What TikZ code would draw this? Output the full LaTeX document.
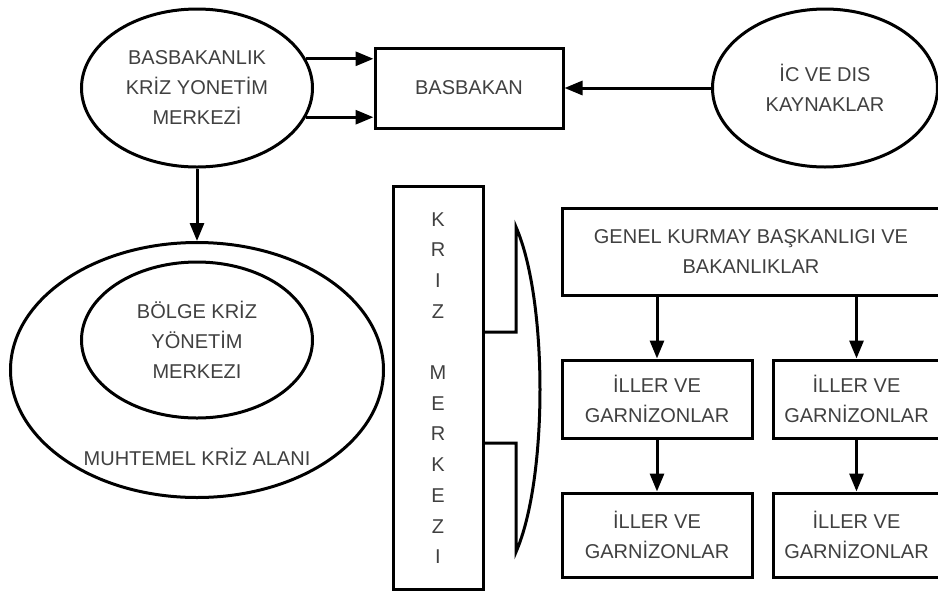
\documentclass[tikz,border=0pt]{standalone}
\usepackage{fontspec}
\setmainfont{Liberation Sans}
\usetikzlibrary{positioning,shapes.geometric,arrows.meta}

\begin{document}
\begin{tikzpicture}
		[x=1pt,y=-1pt,line width=3pt,
		ovalnode/.style={ellipse, draw, inner sep=0pt, align=center, text=black!75, font=\fontsize{20}{30}\selectfont},
		boxnode/.style={rectangle, draw, inner sep=0pt, align=center, text=black!75, font=\fontsize{20}{30}\selectfont},
		plaintext/.style={inner sep=0pt, text=black!75, font=\fontsize{20}{30}\selectfont},
		arrowline/.style={-{Triangle[length=18pt,width=14pt]}},
		]
		\useasboundingbox (0,0) rectangle (938,590);
		\clip (0,0) rectangle (938,590);
		
		%Nodes
		\node[ovalnode, minimum width=231pt, minimum height=158pt](kymerkez) at (197,88) {BASBAKANLIK\\KRİZ YONETİM\\MERKEZİ};
		\node[boxnode, minimum width=188pt, minimum height=80pt](basbakan) at (469,88) {BASBAKAN};
		\node[ovalnode, minimum width=225pt, minimum height=158pt](kaynak) at (825,88) {İC VE DIS\\KAYNAKLAR};
		\node[ellipse, draw, minimum width=373pt, minimum height=255pt](muhtemelalan) at (197,370) {};
		\node[ovalnode, minimum width=231pt, minimum height=156pt](bolge) at (197,340) {BÖLGE KRİZ\\YÖNETİM\\MERKEZI};
		\node[plaintext](muhtemelyazi) at (197,457) {MUHTEMEL KRİZ ALANI};
		\node[boxnode, minimum width=90pt, minimum height=403pt, font=\fontsize{20}{30.7}\selectfont](krizmerkez) at (438,388) {K\\R\\I\\Z\\~\\M\\E\\R\\K\\E\\Z\\I};
		\node[boxnode, minimum width=378pt, minimum height=87pt](genelkurmay) at (751,251.5) {GENEL KURMAY BAŞKANLIGI VE\\BAKANLIKLAR};
		\node[boxnode, minimum width=190pt, minimum height=78pt](iller1) at (657,399) {İLLER VE\\GARNİZONLAR};
		\node[boxnode, minimum width=167pt, minimum height=78pt](iller2) at (856.5,399) {İLLER VE\\GARNİZONLAR};
		\node[boxnode, minimum width=190pt, minimum height=84pt](iller3) at (657,535) {İLLER VE\\GARNİZONLAR};
		\node[boxnode, minimum width=167pt, minimum height=84pt](iller4) at (856.5,535) {İLLER VE\\GARNİZONLAR};
		
		%Bracket
		\coordinate (brackettop) at (516,227);
		\coordinate (bracketA) at (516,332);
		\coordinate (bracketB) at (516,443);
		\coordinate (bracketbottom) at (516,552);
		\draw (krizmerkez.east |- bracketA) -- (bracketA) -- (brackettop) .. controls (548,300) and (548,479) .. (bracketbottom) -- (bracketB) -- (krizmerkez.east |- bracketB);
		
		%Lines
		\draw[arrowline](kymerkez.15) -- (kymerkez.15 -| basbakan.west);
		\draw[arrowline](kymerkez.-15) -- (kymerkez.-15 -| basbakan.west);
		\draw[arrowline](kaynak.west) -- (basbakan.east);
		\draw[arrowline](kymerkez.south) -- (muhtemelalan.north);
		\draw[arrowline](genelkurmay.south -| iller1.north) -- (iller1.north);
		\draw[arrowline](genelkurmay.south -| iller2.north) -- (iller2.north);
		\draw[arrowline](iller1.south) -- (iller3.north);
		\draw[arrowline](iller2.south) -- (iller4.north);
	\end{tikzpicture}
\end{document}
